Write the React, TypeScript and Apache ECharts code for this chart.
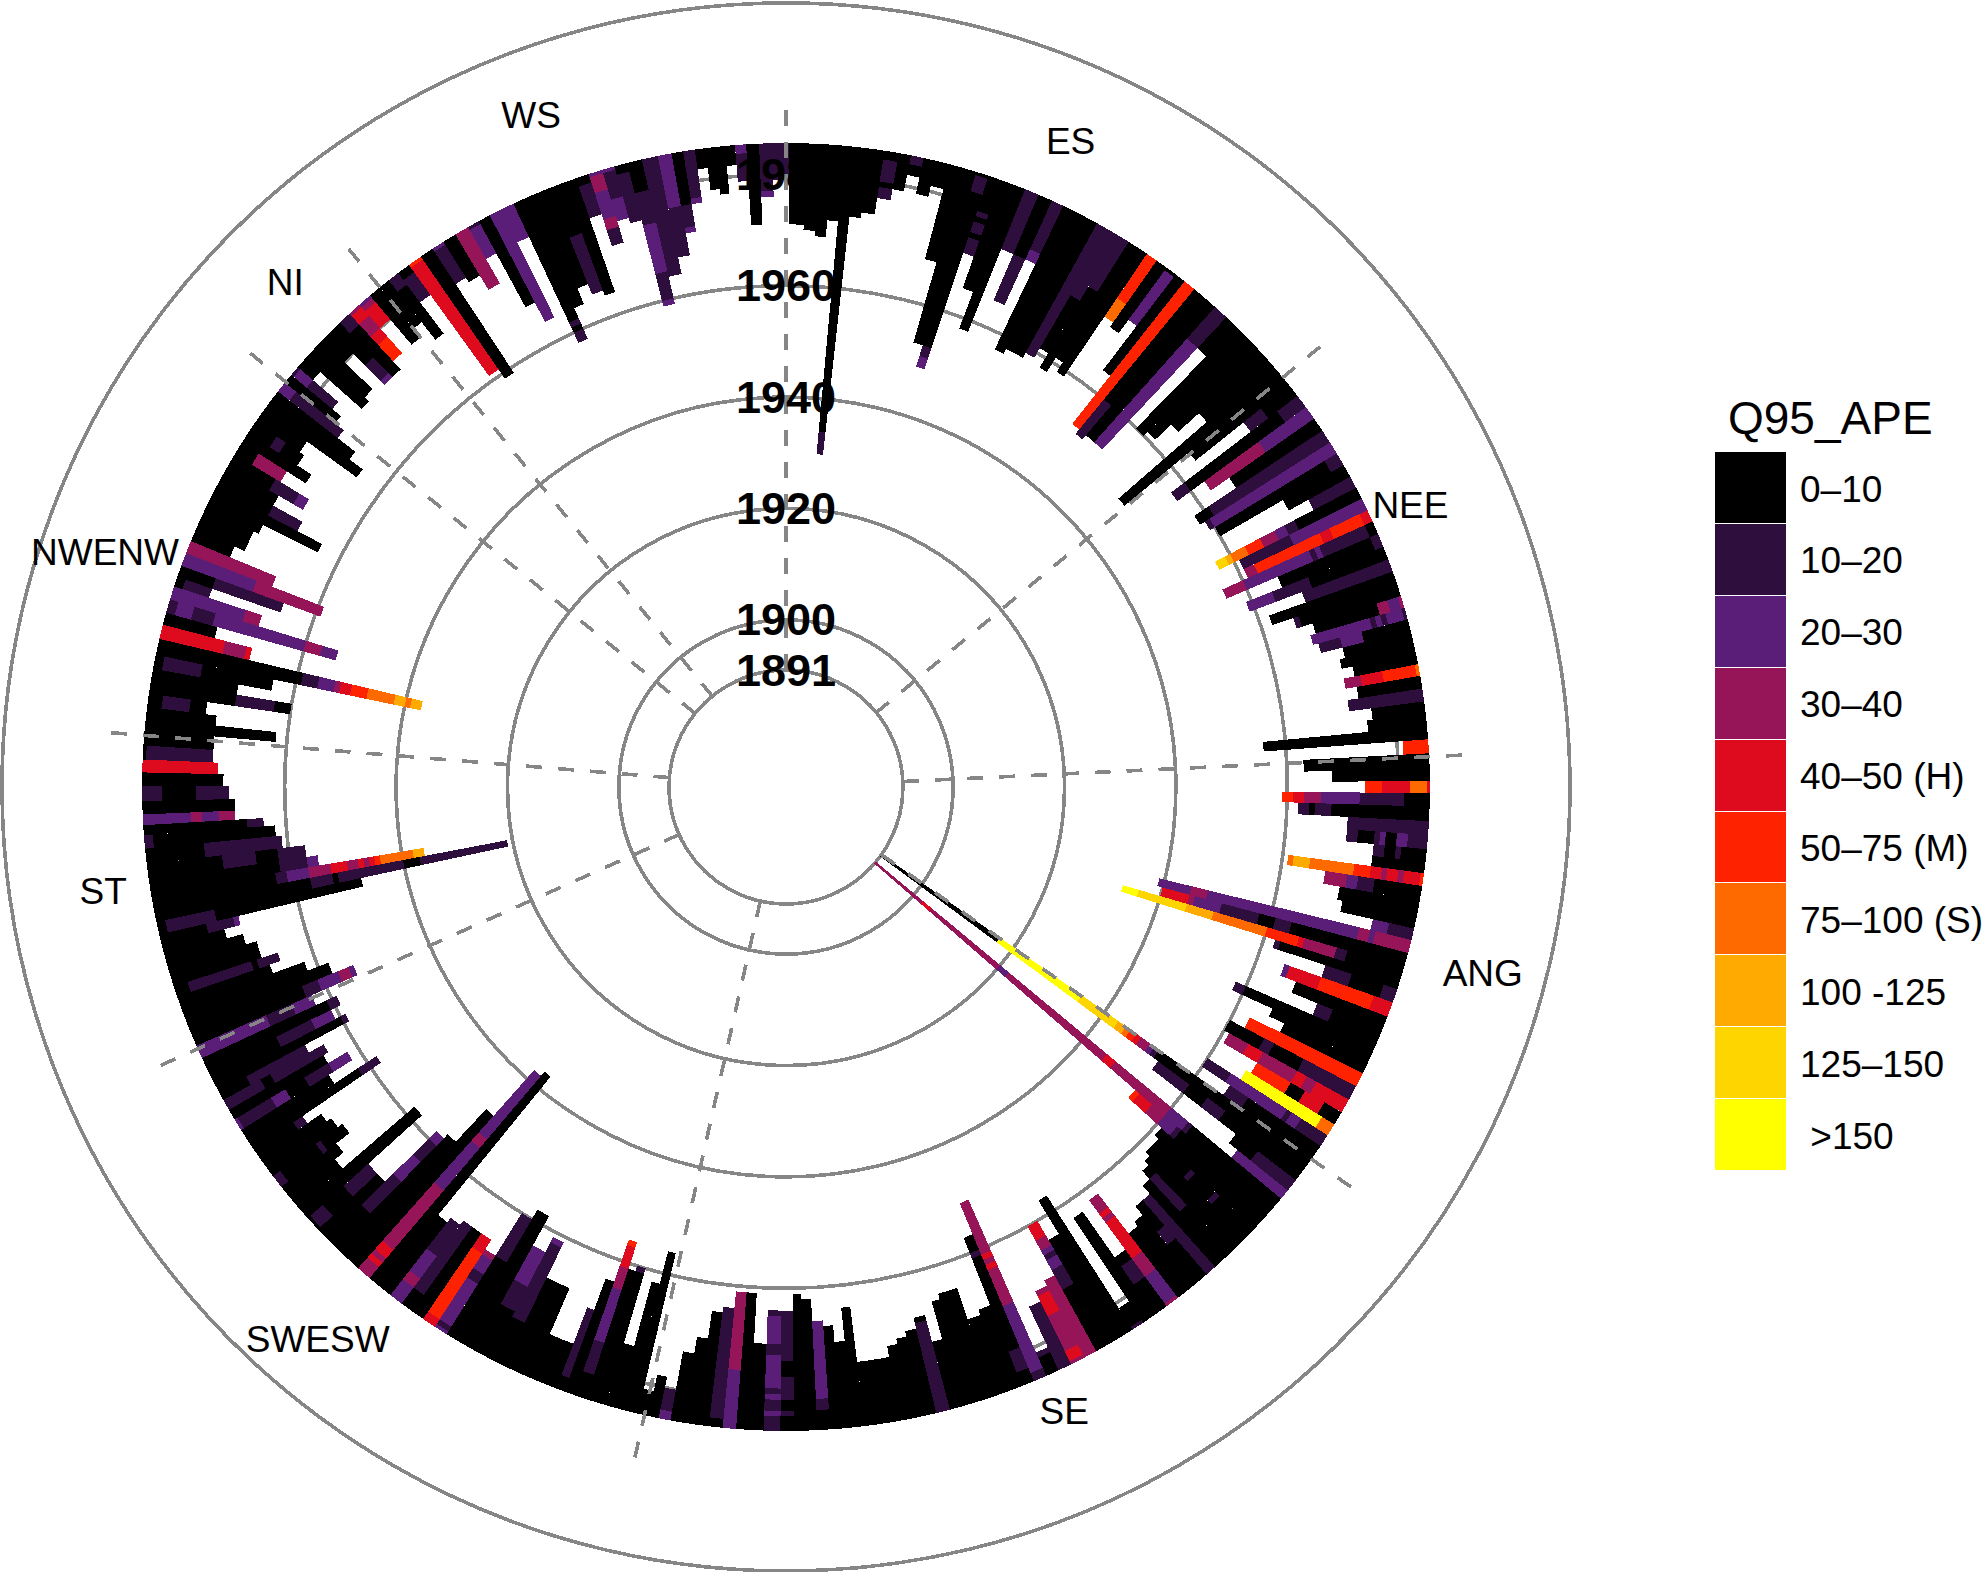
import React, { useEffect, useRef } from "react";
import * as echarts from "echarts";

// Every entry: "clock angle of the gauge | startYear:class startYear:class ..."
const spokesES = [
  "1.2|1971:0","2.4|1970:0","3.6|1969:0","4.7|1972:0","5.8|1930:1 1934:0","6.9|1973:0","8.1|1974:0",
  "9.5|1977:1 1979:0 1980:1 1984:0","10.7|1979:0","11.7|1982:0 1984:1","13|1979:0","14.1|1981:0","15.4|1968:0",
  "16.6|1953:0","17.8|1949:2 1951:1 1953:0 1982:1 1985:0","18.9|1971:1 1974:0 1975:1 1977:0 1978:1 1979:0",
  "20.1|1965:0","21.3|1958:0","22.3|1974:1","23.9|1965:1 1974:0","24.9|1974:2 1976:1","26.1|1957:0","27.2|1958:0",
  "28.3|1958:0","29.5|1959:1","30.6|1961:0 1972:1","31.7|1958:0 1975:1","32.6|1961:0","33.6|1959:0","34.6|1972:6 1976:5",
  "35.7|1971:0","36.8|1974:2 1985:0","37.7|1964:0","38.8|1953:5","39.9|1952:1 1960:0","41|1953:0","42.6|1953:2 1978:1","43.7|1978:0",
];
const spokesNEE = [
  "44.9|1960:0","46.2|1961:0","47.3|1965:0","48.4|1970:0","49.7|1949:0","50.9|1964:0","52|1975:1 1979:0",
  "53.2|1957:1 1960:0 1981:1","54.5|1963:3 1975:2","55.7|1967:0","57.1|1958:0 1961:1","58.2|1959:1 1960:2",
  "59.4|1960:0 1983:1","60.6|1973:0","61.8|1977:1","62.8|1957:8 1959:7 1960:6 1963:5 1966:3 1969:2 1971:1 1973:0",
  "64|1961:1 1971:2","65.1|1961:3 1963:5 1976:4 1978:5 1984:4","66.2|1956:3 1960:2 1973:1 1974:2 1975:1 1984:0",
  "67.5|1966:0 1984:1","68.7|1959:2 1964:1 1971:0","69.9|1969:1","71|1962:0","72.2|1966:1 1967:0",
  "73.3|1969:0 1981:3 1983:2 1985:3","74.4|1968:2 1979:1 1980:2 1981:1 1982:2 1985:1","75.4|1969:1 1973:2 1977:0",
  "76.5|1973:0","77.5|1972:0","78.5|1974:0","79.5|1972:3 1975:4 1979:5 1985:6","80.6|1974:0","81.8|1972:1",
  "82.9|1976:0","84|1975:0","85.2|1956:0","86.3|1981:5",
];
const spokesANG = [
  "87.7|1963:0","88.9|1968:0","90|1974:5 1977:4 1982:6 1985:4","91.1|1959:5 1961:4 1963:3 1966:2 1973:1 1981:0",
  "92.4|1962:1 1964:0 1965:1 1968:0","93.7|1971:1","94.9|1971:1 1973:0 1976:1 1977:2 1978:0 1980:2 1982:1",
  "96.2|1976:1 1978:0 1980:1 1981:0","97.2|1976:0","98.2|1961:6 1962:7 1965:6 1973:5 1976:4 1978:3 1979:4 1981:3 1982:4 1985:5",
  "99.5|1968:3 1972:2 1974:1 1977:0","100.9|1971:0","102.2|1972:0","103.2|1978:2 1981:1",
  "104.3|1939:2 1945:3 1948:2 1976:3 1978:2 1979:3","105.6|1940:4 1945:3 1946:2 1951:1 1958:0 1961:1 1964:0",
  "106.9|1933:9 1936:8 1945:7 1950:6 1960:5 1966:4 1967:3 1973:1 1975:0","107.8|1962:1 1963:0","108.8|1972:1 1977:0 1983:1",
  "110.3|1965:2 1966:4 1972:5 1982:4","111.5|1968:0","112.8|1973:1 1976:0","114|1958:1 1960:0","115|1966:0","115.8|1969:0",
  "117|1963:5","118.4|1960:0 1967:1 1969:0 1975:1","119.7|1961:3 1965:4 1968:3 1975:4 1977:3 1979:4",
  "121|1968:5 1975:0 1978:4 1982:0","122.2|1967:9 1983:6","123.3|1960:1 1965:2 1977:1 1978:2 1980:1","124.5|1966:1 1970:0",
  "125.8|1891:0 1917:9 1935:8 1943:7 1944.7:6 1945.7:5 1947:4 1948:3 1950:2 1951:1 1952:0",
  "127|1953:1 1960:0 1964:1 1968:0","128.3|1972:0 1977:1","129.3|1974:2",
  "130.2|1891:3 1902:4 1904:3 1920:2 1922:3 1945:4 1947:3 1960:2 1964:1 1965:0","131.7|1953:5 1954:4 1957:3 1960:2 1963:1 1964:0",
];
const spokesSE = [
  "132.8|1961:0","133.9|1962:0 1970:1 1971:0 1976:1 1977:0","135|1962:0","135.8|1963:0","136.6|1964:0 1966:1 1974:0",
  "137.7|1966:0","138.7|1968:1","139.7|1968:0 1974:1 1977:0","140.7|1970:0","141.9|1971:0",
  "143.1|1962:3 1965:4 1966:3 1967:4 1975:3 1979:2 1985:3","144.4|1973:0 1975:1 1979:0","145.7|1963:0","146.9|1981:0 1985:1",
  "148|1957:0","149.2|1964:0","150.6|1960:4 1963:3 1965:2 1966:1 1967:2 1969:1 1973:0","151.8|1970:3",
  "153|1971:3 1972:4 1976:3 1983:4 1985:3","154.4|1973:1","155.5|1981:1 1982:0","156.8|1951:3 1961:4 1962:3 1963:4 1964:3 1971:2 1984:1",
  "157.9|1957:0 1960:1 1961:0 1979:1 1983:0","159.1|1970:0","160.5|1971:0","161.8|1965:0","162.8|1965:0","163.8|1966:0","164.6|1973:0",
  "165.9|1968:0 1969:1","167.1|1970:0","168.2|1971:0","169.2|1972:0","170.3|1974:0","171.4|1974:0","172.5|1974:0","173.4|1964:0",
  "174.5|1970:0","175.5|1967:0","176.6|1966:2 1980:1 1982:0","177.8|1962:0","178.8|1961:0",
  "179.7|1964:1 1973:0 1976:1 1980:0 1982:1 1983:0","181.3|1964:1 1965:2 1970:1 1972:2 1978:1 1979:2 1980:1 1982:2 1983:1",
  "182.7|1970:0","183.9|1961:0","185|1961:3 1975:2","186.3|1964:1 1984:0","187.5|1965:0","188.6|1970:0","189.8|1973:0","190.9|1980:1 1984:2",
];
const spokesSWESW = [
  "191.9|1978:0","192.8|1981:0","193.8|1956:0","194.7|1962:0","195.7|1974:0","196.8|1960:1 1961:0","197.7|1961:0",
  "198.5|1956:5 1957:4 1961:3 1965:2 1975:1 1981:0","199.8|1964:0","200.5|1970:1 1983:0","201.3|1977:0","202.5|1977:0","204.2|1968:0",
  "205.4|1968:0","206.6|1961:2 1962:1 1977:0","208.1|1964:2 1971:1 1976:0","209.7|1958:0","211.2|1960:1 1969:0",
  "212.4|1969:3 1970:2 1973:1 1975:2 1984:1 1985:2","213.7|1967:4 1970:5 1984:4","214.9|1967:0","216.1|1967:1 1982:0",
  "217.2|1968:1 1975:2 1980:3 1982:2","218.6|1969:0","219.6|1937:0","221|1938:2 1953:3 1955:2 1965:3 1979:4 1981:3 1982:4 1983:3",
  "222.3|1949:0","223.6|1957:0","224.9|1958:2 1960:1 1964:2 1969:1 1977:0","226|1971:0","227.2|1971:1 1977:0 1982:1 1985:0",
  "228.7|1958:0","229.9|1975:0","231|1973:0","232.2|1970:0 1975:1 1976:0 1984:1","233.4|1971:0","234.5|1972:0","235.3|1975:1 1977:0",
  "236.2|1958:1 1962:0","237.2|1967:0","238.4|1962:2 1966:1 1971:0 1975:2 1978:1 1985:2","239.4|1966:0","240.4|1965:1 1976:0 1978:1",
  "241.4|1968:1 1980:0","242.2|1959:1 1960:0","243.3|1961:2 1965:1 1972:0","244.5|1959:1 1961:0","245.7|1963:2 1967:1 1972:2",
];
const spokesST = [
  "246.9|1954:2 1955:3 1957:2 1961:1 1964:0","248.4|1958:0","249.6|1962:0","250.5|1968:0","251.5|1966:1 1970:0 1971:1 1983:0",
  "252.4|1969:0","253.2|1969:0","254.3|1971:0","255.4|1974:0","256.2|1971:2 1972:1 1977:0","257.3|1948:0 1975:1 1984:0",
  "258.5|1921:1 1937:0 1940:1 1952:0 1953:1 1957:0",
  "259.9|1936:7 1938:6 1944:5 1945:4 1946:3 1947:4 1948:3 1950:4 1953:3 1957:2 1961:1 1963:0","261|1955:2 1957:1 1962:0",
  "262.4|1957:1 1962:0 1966:1 1972:0","263.8|1961:1 1975:0","265.2|1962:0 1984:1","266.2|1964:1 1967:0",
  "267|1969:3 1972:2 1975:3 1977:2","268.1|1969:0","269.4|1970:1 1976:0 1982:1","270.7|1971:0","271.9|1972:4","273|1973:1 1985:0",
  "274.4|1973:0","275.7|1962:0","276.6|1973:0","277.7|1975:0 1978:1 1983:0","279|1960:0 1963:1 1970:0","280.1|1970:0",
  "281.1|1964:0 1977:1 1984:0","282.6|1937:7 1939:6 1940:7 1942:6 1947:5 1950:4 1952:3 1953:2 1956:1 1959:0",
];
const spokesNWENW = [
  "284|1969:4 1970:3 1974:4","285.2|1976:0","286.2|1954:2 1957:3 1960:2 1977:1 1981:2 1984:1","287.7|1969:3 1972:2",
  "288.6|1979:1 1984:0","289.5|1966:1 1979:0","290.7|1959:3 1972:2","291.9|1969:3","293|1978:0","294.1|1976:0","295.2|1976:0",
  "296.1|1975:0","297.1|1964:0","298.2|1969:1 1975:0","299.3|1975:0","300.4|1970:2 1972:1 1977:0","301.8|1976:3 1982:0",
  "302.8|1972:0","303.9|1975:0 1979:1 1981:0","305.2|1976:0","306.4|1965:0","307.4|1968:0","308.4|1972:1 1983:2",
];
const spokesNI = [
  "309.4|1974:0","310.2|1976:1 1982:2 1985:1","311.2|1982:0","312.2|1972:0","313.3|1973:0","314.5|1980:0","315.6|1972:2 1973:1 1977:0",
  "316.7|1972:0 1983:1","317.9|1974:5 1978:4 1980:3 1983:4 1985:3","319.1|1980:4 1984:3 1985:2","320.4|1974:0",
];
const spokesWS = [
  "321.4|1976:0","322.4|1972:0 1983:1","323.5|1979:1 1984:0","324.8|1961:4 1985:5","326.1|1959:0","327.3|1978:1 1985:2","328.4|1977:0",
  "329.8|1974:3","331|1979:2 1985:1","332|1968:0","333.2|1964:2","334.3|1979:2","335.6|1958:1 1960:0 1961:1 1962:0","336.7|1964:0",
  "337.9|1967:0","339.1|1965:1 1976:0","340.4|1964:0","341.5|1978:1 1984:0","342.8|1972:1 1975:3 1977:2 1982:3 1985:2",
  "344|1976:2 1980:1 1985:2","345.1|1975:1 1984:0","346.3|1959:2 1960:1 1965:2 1974:1 1980:0","347.8|1964:1","349.2|1967:1 1976:2",
  "350.3|1971:2 1972:1 1976:0","351.3|1976:2 1977:1","352.4|1982:0","353.2|1978:0","354.1|1977:0","355|1982:0","355.9|1979:1 1984:2",
  "357|1971:0","358.2|1976:2 1977:1","359.4|1979:1",
];

const lastYear = 1985.6;
const classColors = ["#000000","#2e0e3c","#5a1e78","#961559","#de0a1e","#ff2200","#ff6a00","#ffaa00","#ffd500","#ffff00"];
const classLabels = ["0\u201310","10\u201320","20\u201330","30\u201340","40\u201350 (H)","50\u201375 (M)","75\u2013100 (S)","100 -125","125\u2013150"," >150"];
const gridYears = [1891, 1900, 1920, 1940, 1960, 1980, 2010.75];
const tickLabels = ["1891", "1900", "1920", "1940", "1960", "1980"];
const boundaryAngles = [0, 50.5, 87.3, 125.3, 192.7, 246, 274.6, 309, 320.9];
const boundaryEnds = [1991.5, 1994.3, 1991.5, 1994.3, 1993.4, 1992.9, 1991.5, 1993.8, 1994.5];
const regionNames = ["ES", "NEE", "ANG", "SE", "SWESW", "ST", "NWENW", "NI", "WS"];
const regionAngles = [23.8, 65.7, 105, 156, 220.3, 261.3, 289, 315.2, 339.2];
const regionYears = [1996.6, 1993, 1999.5, 1992.8, 2000, 1994, 1999.3, 1997.6, 1998.9];

const FONT = "'Liberation Sans', Arial, sans-serif";
const GRAY = "#868686";

function parseSpokes() {
  const all = [...spokesES, ...spokesNEE, ...spokesANG, ...spokesSE, ...spokesSWESW, ...spokesST, ...spokesNWENW, ...spokesNI, ...spokesWS]
    .map((s) => {
      const [a, runs] = s.split("|");
      return { angle: parseFloat(a), runs: runs.split(" ").map((r) => r.split(":").map(Number)) };
    });
  const out: number[][] = [];
  all.forEach((sp, i) => {
    const prev = all[(i - 1 + all.length) % all.length].angle;
    const next = all[(i + 1) % all.length].angle;
    const before = Math.min(((sp.angle - prev + 360) % 360) / 2, 1);
    const after = Math.min(((next - sp.angle + 360) % 360) / 2, 1);
    sp.runs.forEach((run, k) => {
      const end = k + 1 < sp.runs.length ? sp.runs[k + 1][0] : lastYear;
      out.push([sp.angle - before, sp.angle + after, run[0], end, run[1]]);
    });
  });
  return out;
}

export default function App() {
  const ref = useRef<HTMLDivElement>(null);
  useEffect(() => {
    document.body.style.margin = "0";
    const chart = echarts.init(ref.current!, undefined, { renderer: "svg" });
    const tiles = parseSpokes();
    const legendGraphics: any[] = [];
    classColors.forEach((c, i) => {
      legendGraphics.push({ type: "rect", shape: { x: 1715, y: 452 + i * 71.9, width: 71, height: 70.9 }, style: { fill: c } });
      legendGraphics.push({
        type: "text", x: 1800, y: 452 + i * 71.9 + 37,
        style: { text: classLabels[i], fill: "#000", font: `37px ${FONT}`, textVerticalAlign: "middle", textAlign: "left" },
      });
    });
    legendGraphics.push({
      type: "text", x: 1728, y: 418,
      style: { text: "Q95_APE", fill: "#000", font: `46px ${FONT}`, textVerticalAlign: "middle", textAlign: "left" },
    });
    chart.setOption({
      animation: false,
      backgroundColor: "#fff",
      polar: { center: [786, 787], radius: [0, 784] },
      angleAxis: { type: "value", min: 0, max: 360, startAngle: 90, clockwise: true, show: false },
      radiusAxis: { type: "value", min: 1870, max: 2010.75, show: false },
      graphic: legendGraphics,
      series: [
        {
          type: "custom", coordinateSystem: "polar", silent: true, z: 1, clip: false,
          encode: { radius: 0 },
          data: gridYears.map((y) => [y]),
          renderItem: (p: any, api: any) => {
            const c = api.coord([api.value(0), 0]);
            return { type: "circle", shape: { cx: p.coordSys.cx, cy: p.coordSys.cy, r: c[2] }, style: { fill: "none", stroke: GRAY, lineWidth: 3.6 } };
          },
        },
        {
          type: "custom", coordinateSystem: "polar", silent: true, z: 2, clip: false,
          encode: { angle: [0, 1], radius: [2, 3] },
          data: tiles,
          renderItem: (p: any, api: any) => {
            const cx = p.coordSys.cx, cy = p.coordSys.cy;
            const a = api.coord([api.value(2), api.value(0)]);
            const b = api.coord([api.value(3), api.value(1)]);
            const a0 = Math.atan2(a[1] - cy, a[0] - cx);
            let a1 = Math.atan2(b[1] - cy, b[0] - cx);
            if (a1 < a0) a1 += Math.PI * 2;
            return {
              type: "sector",
              shape: { cx, cy, r0: a[2], r: b[2], startAngle: a0, endAngle: a1, clockwise: true },
              style: { fill: classColors[api.value(4)] },
            };
          },
        },
        {
          type: "custom", coordinateSystem: "polar", silent: true, z: 3, clip: false,
          encode: { angle: 0, radius: 1 },
          data: boundaryAngles.map((a, i) => [a, boundaryEnds[i]]),
          renderItem: (_p: any, api: any) => {
            const a = api.coord([1891, api.value(0)]);
            const b = api.coord([api.value(1), api.value(0)]);
            const dash = (b[2] - a[2]) / 35;
            return {
              type: "line",
              shape: { x1: a[0], y1: a[1], x2: b[0], y2: b[1] },
              style: { stroke: GRAY, lineWidth: 3.6, lineDash: [dash, dash] },
            };
          },
        },
        {
          type: "custom", coordinateSystem: "polar", silent: true, z: 4, clip: false,
          encode: { radius: 0 },
          data: tickLabels.map((t) => [Number(t)]),
          renderItem: (_p: any, api: any) => {
            const c = api.coord([api.value(0), 0]);
            return {
              type: "text", x: c[0], y: c[1],
              style: { text: String(api.value(0)), fill: "#000", font: `bold 45px ${FONT}`, textAlign: "center", textVerticalAlign: "middle" },
            };
          },
        },
        {
          type: "custom", coordinateSystem: "polar", silent: true, z: 4, clip: false,
          encode: { angle: 0, radius: 1 },
          data: regionNames.map((_, i) => [regionAngles[i], regionYears[i], i]),
          renderItem: (_p: any, api: any) => {
            const c = api.coord([api.value(1), api.value(0)]);
            return {
              type: "text", x: c[0], y: c[1],
              style: { text: regionNames[api.value(2)], fill: "#000", font: `37px ${FONT}`, textAlign: "center", textVerticalAlign: "middle" },
            };
          },
        },
      ],
    });
    return () => chart.dispose();
  }, []);
  return (
    <>
      <style>{"svg path, svg circle, svg line, svg rect { shape-rendering: crispEdges; }"}</style>
      <div ref={ref} style={{ width: 1984, height: 1572 }} />
    </>
  );
}
